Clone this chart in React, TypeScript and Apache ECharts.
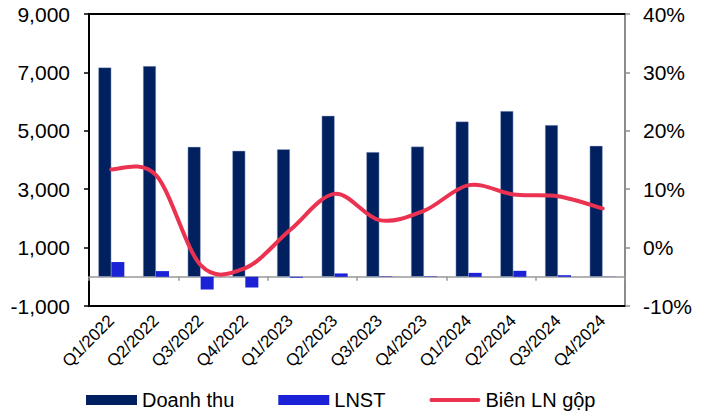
import React, { useEffect, useRef } from "react";
import * as echarts from "echarts";

const categories = [
  "Q1/2022", "Q2/2022", "Q3/2022", "Q4/2022",
  "Q1/2023", "Q2/2023", "Q3/2023", "Q4/2023",
  "Q1/2024", "Q2/2024", "Q3/2024", "Q4/2024",
];
const doanhThu = [7170, 7215, 4450, 4315, 4370, 5515, 4270, 4460, 5320, 5675, 5195, 4485];
const lnst = [505, 195, -435, -365, -30, 115, 15, 15, 135, 205, 55, 5];
const bienLNGop = [13.4, 12.4, -3.0, -3.5, 3.0, 9.2, 4.7, 6.3, 10.7, 9.1, 8.8, 6.7];

const FONT = "'Liberation Sans', Arial, sans-serif";
const LINE_COLOR = "#EB3250";

export default function App() {
  const ref = useRef<HTMLDivElement>(null);
  useEffect(() => {
    if (!ref.current) return;
    const chart = echarts.init(ref.current, null, { renderer: "svg" });
    chart.setOption({
      animation: false,
      backgroundColor: "#ffffff",
      textStyle: { fontFamily: FONT },
      grid: { left: 89, right: 86, top: 14, bottom: 110, containLabel: false },
      legend: {
        left: 81,
        top: 385,
        padding: 5,
        itemWidth: 51,
        itemHeight: 10,
        itemGap: 44,
        textStyle: { fontSize: 20, color: "#000", fontFamily: FONT },
        data: [
          { name: "Doanh thu", icon: "rect", itemStyle: { color: "#002060", borderWidth: 0 } },
          { name: "LNST", icon: "rect", itemStyle: { color: "#1B22D6", borderWidth: 0 } },
          {
            name: "Biên LN gộp",
            icon: "path://M2,0 L49,0 A2,2 0 0 1 49,4 L2,4 A2,2 0 0 1 2,0 Z",
            itemStyle: { color: LINE_COLOR, borderWidth: 0 },
          },
        ],
      },
      xAxis: [
        {
          type: "category",
          data: categories,
          position: "bottom",
          axisLine: { onZero: false, show: true, lineStyle: { color: "#000", width: 2 } },
          axisTick: { show: false },
          axisLabel: {
            interval: 0,
            rotate: 45,
            margin: 12,
            fontSize: 17,
            color: "#000",
            fontFamily: FONT,
          },
        },
        {
          type: "category",
          data: categories,
          position: "bottom",
          axisLine: { onZero: true, onZeroAxisIndex: 0, show: true, lineStyle: { color: "#999", width: 1.5 } },
          axisTick: { show: true, inside: false, length: 4, lineStyle: { color: "#999", width: 1.5 } },
          axisLabel: { show: false },
        },
        {
          type: "category",
          data: categories,
          position: "top",
          axisLine: { onZero: false, show: true, lineStyle: { color: "#000", width: 2 } },
          axisTick: { show: false },
          axisLabel: { show: false },
        },
      ],
      yAxis: [
        {
          type: "value",
          position: "left",
          min: -1000,
          max: 9000,
          interval: 2000,
          axisLine: { show: true, lineStyle: { color: "#000", width: 2 } },
          axisTick: { show: true, inside: false, length: 5, lineStyle: { color: "#000", width: 1.5 } },
          splitLine: { show: false },
          axisLabel: {
            margin: 19,
            fontSize: 21,
            color: "#000",
            fontFamily: FONT,
            formatter: (v: number) => v.toLocaleString("en-US"),
          },
        },
        {
          type: "value",
          position: "right",
          min: -10,
          max: 40,
          interval: 10,
          axisLine: { show: true, lineStyle: { color: "#8c8c8c", width: 2 } },
          axisTick: { show: true, inside: false, length: 5, lineStyle: { color: "#8c8c8c", width: 1.5 } },
          splitLine: { show: false },
          axisLabel: {
            margin: 18,
            fontSize: 21,
            color: "#000",
            fontFamily: FONT,
            formatter: "{value}%",
          },
        },
      ],
      series: [
        {
          name: "Doanh thu",
          type: "bar",
          xAxisIndex: 0,
          yAxisIndex: 0,
          data: doanhThu,
          barWidth: 13,
          barGap: "0%",
          itemStyle: { color: "#002060", borderColor: "rgba(170,185,215,0.9)", borderWidth: 0.5 },
        },
        {
          name: "LNST",
          type: "bar",
          xAxisIndex: 0,
          yAxisIndex: 0,
          data: lnst,
          barWidth: 13,
          barGap: "0%",
          itemStyle: { color: "#1B22D6" },
        },
        {
          name: "Biên LN gộp",
          type: "custom",
          coordinateSystem: "cartesian2d",
          xAxisIndex: 0,
          yAxisIndex: 1,
          z: 5,
          itemStyle: { color: LINE_COLOR },
          encode: { x: 0, y: 1 },
          data: bienLNGop.map((v, i) => [i, v]),
          renderItem: (params: any, api: any) => {
            if (params.dataIndex !== 0) return null;
            const pts = bienLNGop.map((v, i) => api.coord([i, v]));
            let d = `M${pts[0][0]},${pts[0][1]}`;
            for (let i = 0; i < pts.length - 1; i++) {
              const p0 = pts[i - 1] || pts[i];
              const p1 = pts[i];
              const p2 = pts[i + 1];
              const p3 = pts[i + 2] || p2;
              const c1x = p1[0] + (p2[0] - p0[0]) / 6;
              const c1y = p1[1] + (p2[1] - p0[1]) / 6;
              const c2x = p2[0] - (p3[0] - p1[0]) / 6;
              const c2y = p2[1] - (p3[1] - p1[1]) / 6;
              d += ` C${c1x},${c1y} ${c2x},${c2y} ${p2[0]},${p2[1]}`;
            }
            return {
              type: "path",
              shape: { pathData: d },
              style: { fill: "none", stroke: LINE_COLOR, lineWidth: 4, lineCap: "round", lineJoin: "round" },
            };
          },
        },
      ],
    });
    return () => chart.dispose();
  }, []);
  return (
    <div
      ref={ref}
      style={{ position: "fixed", left: 0, top: 0, width: 711, height: 416 }}
    />
  );
}
